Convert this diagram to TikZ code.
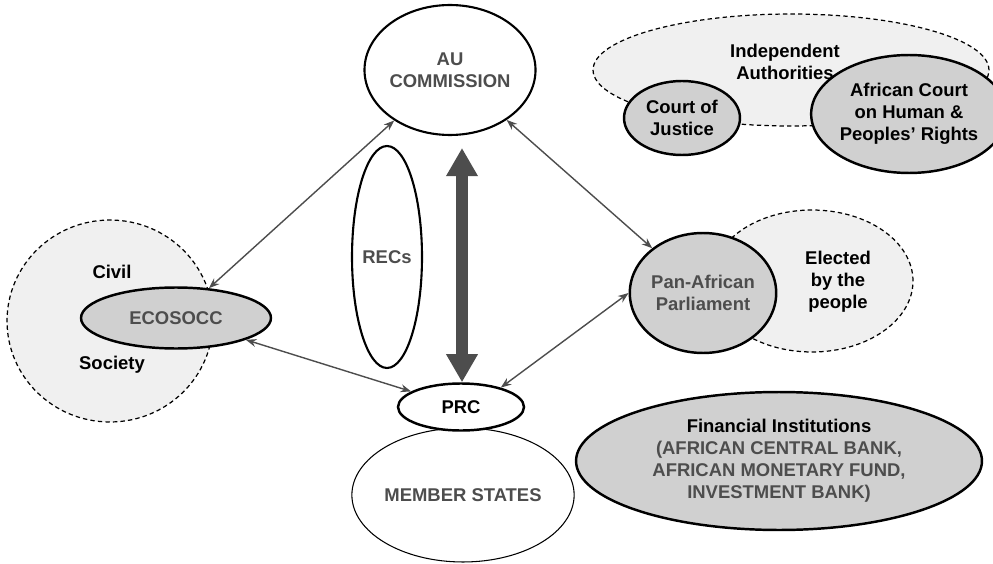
\documentclass[tikz,border=0pt]{standalone}
\usepackage{fontspec}
\setmainfont{Liberation Sans}
\usepackage{xcolor}
\usepackage{tikz}
\usetikzlibrary{shapes.geometric,arrows.meta}

\definecolor{softgray}{HTML}{F0F0F0}
\definecolor{midgray}{HTML}{D0D0D0}
\definecolor{inkgray}{HTML}{4D4D4D}

\begin{document}
\begin{tikzpicture}[x=0.02cm,y=-0.02cm,
        every node/.style={font=\fontsize{10.5}{12.5}\selectfont\bfseries,align=center,inner sep=0pt},
        organ/.style={ellipse,draw=black,line width=1.4pt},
        outer/.style={ellipse,draw=black,fill=softgray,dash pattern=on 2.5pt off 1.8pt,line width=0.7pt},
        link/.style={{Stealth[length=6pt,width=4.5pt]}-{Stealth[length=6pt,width=4.5pt]},draw=inkgray,line width=0.8pt}]
            \useasboundingbox (0,0) rectangle (993,564);

            % dashed surroundings
            \node[outer,minimum width=4.12cm,minimum height=4.04cm] (civil) at (110,321) {};
            \node (civiltxt) at (112,272) {Civil};
            \node (societytxt) at (112,365) {Society};

            \node[outer,minimum width=7.92cm,minimum height=2.24cm] (indep) at (791,70) {};
            \node (indeptxt) at (785,62) {Independent\\Authorities};

            \node[outer,minimum width=4.04cm,minimum height=2.84cm] (elected) at (812,281) {};

            % organs
            \node[organ,fill=white,line width=1.2pt,minimum width=3.28cm,minimum height=2.6cm,text=inkgray] (au) at (450,70) {AU\\COMMISSION};
            \node[organ,fill=white,line width=1.2pt,minimum width=1.4cm,minimum height=4.44cm,text=inkgray] (recs) at (387,257) {RECs};
            \node[organ,fill=white,line width=0.6pt,minimum width=4.38cm,minimum height=2.68cm,text=inkgray] (members) at (463,495) {MEMBER STATES};
            \node[organ,fill=white,minimum width=2.52cm,minimum height=0.94cm] (prc) at (461,407) {PRC};
            \node[organ,fill=midgray,minimum width=3.8cm,minimum height=1.22cm,text=inkgray] (ecosocc) at (176,318) {ECOSOCC};
            \node[organ,fill=midgray,minimum width=2.32cm,minimum height=1.48cm] (justice) at (682,118) {Court of\\Justice};
            \node[organ,fill=midgray,minimum width=2.96cm,minimum height=2.36cm] (humanrights) at (909,114) {African Court\\on Human \&\\Peoples' Rights};
            \node[organ,fill=midgray,minimum width=2.8cm,minimum height=2.4cm,text=inkgray] (parl) at (703,293) {Pan-African\\Parliament};
            \node (electedtxt) at (838,282) {Elected\\by the\\people};
            \node[organ,fill=midgray,minimum width=8.12cm,minimum height=2.76cm,text=inkgray] (finance) at (779,461) {\textcolor{black}{Financial Institutions}\\(AFRICAN CENTRAL BANK,\\AFRICAN MONETARY FUND,\\INVESTMENT BANK)};

            % links
            \draw[link] (au) -- (ecosocc);
            \draw[link] (au) -- (parl);
            \draw[link] (ecosocc) -- (prc);
            \draw[link] (parl.180) -- (prc.26);

            \coordinate (axistop) at (462,148);
            \draw[inkgray,line width=6.5pt,{Triangle[length=16pt,width=17pt]}-{Triangle[length=16pt,width=17pt]}] (axistop) -- (axistop |- prc.north);
        \end{tikzpicture}
\end{document}
